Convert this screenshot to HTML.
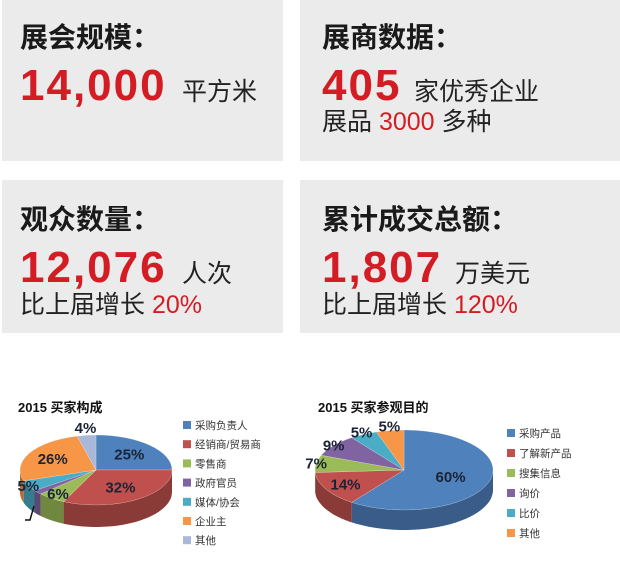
<!DOCTYPE html>
<html><head><meta charset="utf-8">
<style>
body{margin:0;width:620px;height:569px;background:#fff;position:relative;overflow:hidden;font-family:"Liberation Sans","Noto Sans CJK SC",sans-serif;}
.box{position:absolute;background:#ebebeb;}
.t{position:absolute;white-space:nowrap;}
.h{font-size:28px;font-weight:bold;color:#1a1a1a;line-height:1;}
.n{font-size:44px;font-weight:bold;color:#d41c24;line-height:1;letter-spacing:2px;}
.u{font-size:25px;color:#222;line-height:1;}
.r{color:#d41c24;}
</style></head><body>
<div class="box" style="left:2px;top:0;width:281px;height:161px"></div>
<div class="box" style="left:300px;top:0;width:320px;height:161px"></div>
<div class="box" style="left:2px;top:180px;width:281px;height:153px"></div>
<div class="box" style="left:300px;top:180px;width:320px;height:153px"></div>

<div class="t h" style="left:20px;top:24px">展会规模：</div>
<div class="t n" style="left:20px;top:64px">14,000</div>
<div class="t u" style="left:182px;top:80px">平方米</div>

<div class="t h" style="left:322px;top:24px">展商数据：</div>
<div class="t n" style="left:322px;top:64px">405</div>
<div class="t u" style="left:414px;top:80px">家优秀企业</div>
<div class="t u" style="left:322px;top:110px">展品 <span class="r">3000</span> 多种</div>

<div class="t h" style="left:20px;top:206px">观众数量：</div>
<div class="t n" style="left:20px;top:246px">12,076</div>
<div class="t u" style="left:182px;top:262px">人次</div>
<div class="t u" style="left:20px;top:293px">比上届增长 <span class="r">20%</span></div>

<div class="t h" style="left:322px;top:206px">累计成交总额：</div>
<div class="t n" style="left:322px;top:246px">1,807</div>
<div class="t u" style="left:455px;top:262px">万美元</div>
<div class="t u" style="left:322px;top:293px">比上届增长 <span class="r">120%</span></div>

<svg id="charts" width="620" height="569" style="position:absolute;left:0;top:0"></svg>

<script>
const buyerCats=["采购负责人","经销商/贸易商","零售商","政府官员","媒体/协会","企业主","其他"];
const buyerVals=[25,32,6,2,5,26,4];
const buyerColors=["#4F81BD","#C0504D","#9BBB59","#8064A2","#4BACC6","#F79646","#A9B8D9"];
const purposeCats=["采购产品","了解新产品","搜集信息","询价","比价","其他"];
const purposeVals=[60,14,7,9,5,5];
const purposeColors=["#4F81BD","#C0504D","#9BBB59","#8064A2","#4BACC6","#F79646"];

const NS="http://www.w3.org/2000/svg";
const svg=document.getElementById('charts');
function mk(tag,attrs){const e=document.createElementNS(NS,tag);for(const k in attrs)e.setAttribute(k,attrs[k]);svg.appendChild(e);return e;}
function dark(c,f){const n=parseInt(c.slice(1),16);const r=Math.round((n>>16)*f),g=Math.round(((n>>8)&255)*f),b=Math.round((n&255)*f);return `rgb(${r},${g},${b})`;}

function pie(cfg){
  const {cx,cy,rx,ry,d,vals,colors,cats,title,tx,ty,lx,ly,lstep,name,labelOff}=cfg;
  const total=vals.reduce((a,b)=>a+b,0);
  const ang=f=>-Math.PI/2+2*Math.PI*f;
  let acc=0;const sl=[];
  vals.forEach((v,i)=>{const a1=ang(acc/total);acc+=v;const a2=ang(acc/total);sl.push([a1,a2]);});
  // sides
  sl.forEach(([a1,a2],i)=>{
    // visible front: angles where sin>0 (mod 2pi in [0,pi])
    for(let k=-1;k<=1;k++){
      const s=Math.max(a1,k*2*Math.PI),e=Math.min(a2,k*2*Math.PI+Math.PI);
      if(e<=s)continue;
      let pts=[];const N=30;
      for(let j=0;j<=N;j++){const t=s+(e-s)*j/N;pts.push([cx+rx*Math.cos(t),cy+ry*Math.sin(t)]);}
      for(let j=N;j>=0;j--){const t=s+(e-s)*j/N;pts.push([cx+rx*Math.cos(t),cy+ry*Math.sin(t)+d]);}
      const p=mk('polygon',{points:pts.map(p=>p.map(x=>x.toFixed(1)).join(',')).join(' '),fill:dark(colors[i],0.72)});
      
      
    }
  });
  // top
  sl.forEach(([a1,a2],i)=>{
    const x1=cx+rx*Math.cos(a1),y1=cy+ry*Math.sin(a1),x2=cx+rx*Math.cos(a2),y2=cy+ry*Math.sin(a2);
    const large=(a2-a1)>Math.PI?1:0;
    const p=mk('path',{d:`M${cx},${cy} L${x1},${y1} A${rx},${ry} 0 ${large} 1 ${x2},${y2} Z`,fill:colors[i],stroke:"rgba(255,255,255,0.4)","stroke-width":0.5});
    
    
  });
  // labels
  sl.forEach(([a1,a2],i)=>{
    const m=(a1+a2)/2;const o=labelOff[i];
    const x=cx+rx*o[0]*Math.cos(m)+o[1],y=cy+ry*o[0]*Math.sin(m)+5+o[2];
    const t=mk('text',{x:x,y:y,"text-anchor":"middle","font-size":15,"font-weight":"bold",fill:"#1b2336"});
    t.textContent=vals[i]+'%';
    
    
  });
  const tt=mk('text',{x:tx,y:ty,"font-size":13,"font-weight":"bold",fill:"#111"});
  tt.textContent=title;
  
  
  cats.forEach((c,i)=>{
    const r=mk('rect',{x:lx,y:ly+i*lstep-4,width:8,height:8,fill:colors[i]});
    
    
    const t=mk('text',{x:lx+12,y:ly+i*lstep+4,"font-size":10.5,fill:"#333"});
    t.textContent=c;
    
    
  });
}
pie({cx:96,cy:470,rx:76,ry:35,d:22,vals:buyerVals,colors:buyerColors,cats:buyerCats,title:"2015 买家构成",tx:18,ty:412,lx:183,ly:425,lstep:19.2,name:"buyer-pie",
  labelOff:[[0.62,0,0],[0.6,0,0],[0.85,0,0],[1.6,-22,28],[1.0,0,0],[0.65,0,0],[1.1,0,-4]]});
mk('polyline',{points:"25,520 30,520 34,506",fill:"none",stroke:"#111","stroke-width":1.5});
pie({cx:404,cy:470,rx:89,ry:40,d:20,vals:purposeVals,colors:purposeColors,cats:purposeCats,title:"2015 买家参观目的",tx:318,ty:412,lx:507,ly:433,lstep:20,name:"purpose-pie",
  labelOff:[[0.55,0,0],[0.75,0,0],[1.0,0,0],[1.0,0,0],[1.05,0,0],[1.05,0,-2]]});
</script>
</body></html>
